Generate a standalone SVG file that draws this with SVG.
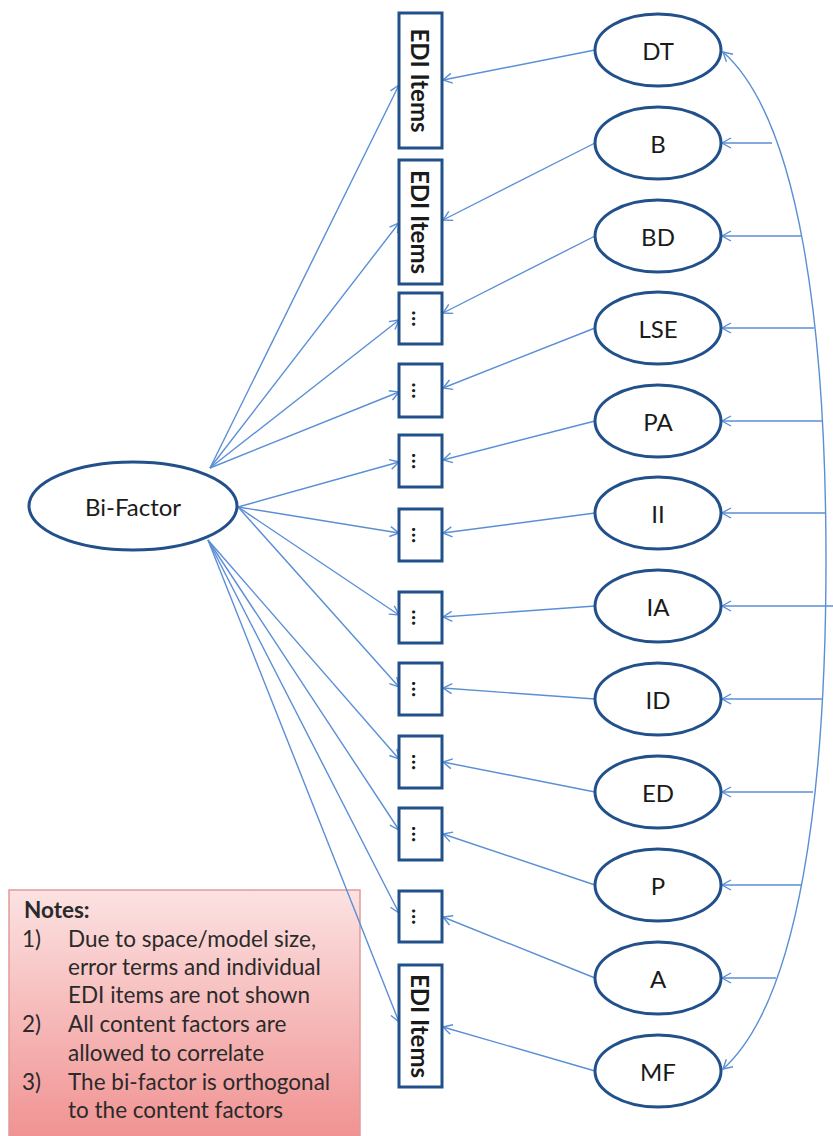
<svg xmlns="http://www.w3.org/2000/svg" width="833" height="1136" viewBox="0 0 833 1136">
<defs>
<linearGradient id="noteGrad" x1="0" y1="0" x2="0" y2="1">
<stop offset="0" stop-color="#fce2e2"/>
<stop offset="1" stop-color="#f08e8e"/>
</linearGradient>
<marker id="arr" viewBox="-10 -6 12 12" refX="0" refY="0" markerWidth="12" markerHeight="12" markerUnits="userSpaceOnUse" orient="auto-start-reverse">
<path d="M-9,-5 L0,0 L-9,5" fill="none" stroke="#5a8fd6" stroke-width="1.4"/>
</marker>
</defs>
<style>
.ell{fill:#fff;stroke:#22508a;stroke-width:3}
.box{fill:#fff;stroke:#22508a;stroke-width:3}
.lbl{font-family:Lato,"Liberation Sans",sans-serif;font-size:24px;fill:#1a1a1a;text-anchor:middle;dominant-baseline:central}
.bt{font-family:Lato,"Liberation Sans",sans-serif;font-size:24px;font-weight:bold;fill:#1a1a1a;text-anchor:middle;dominant-baseline:central}
.dt{font-family:Lato,"Liberation Sans",sans-serif;font-size:21px;font-weight:bold;fill:#1a1a1a;text-anchor:middle;dominant-baseline:central}
.c{fill:none;stroke:#5a8fd6;stroke-width:1.4;marker-end:url(#arr)}
.nt{font-family:Lato,"Liberation Sans",sans-serif;font-size:22.5px;fill:#2a2a2a}
</style>
<rect width="833" height="1136" fill="#fff"/>

<g id="notes">
<rect x="9" y="890" width="351" height="260" fill="url(#noteGrad)" stroke="#e29a9a" stroke-width="1.5"/>
<text class="nt" x="24" y="918" font-weight="bold">Notes:</text>
<text class="nt" x="22" y="947">1)</text>
<text class="nt" x="68" y="947">Due to space/model size,</text>
<text class="nt" x="68" y="975">error terms and individual</text>
<text class="nt" x="68" y="1003">EDI items are not shown</text>
<text class="nt" x="22" y="1032">2)</text>
<text class="nt" x="68" y="1032">All content factors are</text>
<text class="nt" x="68" y="1061">allowed to correlate</text>
<text class="nt" x="22" y="1090">3)</text>
<text class="nt" x="68" y="1090">The bi-factor is orthogonal</text>
<text class="nt" x="68" y="1118">to the content factors</text>
</g>

<g id="connectors">
<line class="c" x1="210" y1="468" x2="399" y2="85"/>
<line class="c" x1="210" y1="468" x2="399" y2="223"/>
<line class="c" x1="210" y1="468" x2="399" y2="320"/>
<line class="c" x1="210" y1="468" x2="399" y2="392"/>
<line class="c" x1="238" y1="507" x2="399" y2="462"/>
<line class="c" x1="238" y1="507" x2="399" y2="533"/>
<line class="c" x1="238" y1="507" x2="399" y2="615"/>
<line class="c" x1="238" y1="507" x2="399" y2="687"/>
<line class="c" x1="208" y1="540" x2="399" y2="759"/>
<line class="c" x1="208" y1="540" x2="399" y2="830"/>
<line class="c" x1="208" y1="540" x2="399" y2="913"/>
<line class="c" x1="208" y1="540" x2="399" y2="1022"/>
<line class="c" x1="595" y1="50" x2="443" y2="80"/>
<line class="c" x1="595" y1="143" x2="443" y2="220"/>
<line class="c" x1="595" y1="236" x2="443" y2="313"/>
<line class="c" x1="595" y1="328" x2="443" y2="388"/>
<line class="c" x1="595" y1="421" x2="443" y2="460"/>
<line class="c" x1="595" y1="513" x2="443" y2="533"/>
<line class="c" x1="595" y1="606" x2="443" y2="617"/>
<line class="c" x1="595" y1="699" x2="443" y2="688"/>
<line class="c" x1="595" y1="792" x2="443" y2="762"/>
<line class="c" x1="595" y1="885" x2="443" y2="834"/>
<line class="c" x1="595" y1="978" x2="443" y2="917"/>
<line class="c" x1="595" y1="1071" x2="443" y2="1027"/>
<path class="c" style="marker-start:url(#arr)" d="M723,52 C800,120 826,330 826,560 C826,790 800,1000 723,1069"/>
<line class="c" x1="772" y1="143" x2="722" y2="143"/>
<line class="c" x1="802" y1="236" x2="722" y2="236"/>
<line class="c" x1="814" y1="328" x2="722" y2="328"/>
<line class="c" x1="822" y1="421" x2="722" y2="421"/>
<line class="c" x1="825" y1="513" x2="722" y2="513"/>
<line class="c" x1="833" y1="606" x2="722" y2="606"/>
<line class="c" x1="822" y1="699" x2="722" y2="699"/>
<line class="c" x1="813" y1="792" x2="722" y2="792"/>
<line class="c" x1="802" y1="885" x2="722" y2="885"/>
<line class="c" x1="776" y1="978" x2="722" y2="978"/>
</g>

<g id="bifactor"><ellipse class="ell" cx="133" cy="506" rx="104" ry="44"/><text class="lbl" x="133" y="506">Bi-Factor</text></g>

<g id="box1"><rect class="box" x="399" y="13" width="43" height="135"/><text class="bt" transform="translate(420.5,80.5) rotate(90)">EDI Items</text></g>
<g id="box2"><rect class="box" x="399" y="160" width="43" height="124"/><text class="bt" transform="translate(420.5,222) rotate(90)">EDI Items</text></g>
<g id="box3"><rect class="box" x="399" y="293" width="43" height="51"/><text class="dt" transform="translate(420.5,318.5) rotate(90)">…</text></g>
<g id="box4"><rect class="box" x="399" y="364" width="43" height="53"/><text class="dt" transform="translate(420.5,390.5) rotate(90)">…</text></g>
<g id="box5"><rect class="box" x="399" y="435" width="43" height="52"/><text class="dt" transform="translate(420.5,461) rotate(90)">…</text></g>
<g id="box6"><rect class="box" x="399" y="509" width="43" height="52"/><text class="dt" transform="translate(420.5,535) rotate(90)">…</text></g>
<g id="box7"><rect class="box" x="399" y="592" width="43" height="51"/><text class="dt" transform="translate(420.5,617.5) rotate(90)">…</text></g>
<g id="box8"><rect class="box" x="399" y="663" width="43" height="52"/><text class="dt" transform="translate(420.5,689) rotate(90)">…</text></g>
<g id="box9"><rect class="box" x="399" y="736" width="43" height="52"/><text class="dt" transform="translate(420.5,762) rotate(90)">…</text></g>
<g id="box10"><rect class="box" x="399" y="808" width="43" height="52"/><text class="dt" transform="translate(420.5,834) rotate(90)">…</text></g>
<g id="box11"><rect class="box" x="399" y="891" width="43" height="51"/><text class="dt" transform="translate(420.5,916.5) rotate(90)">…</text></g>
<g id="box12"><rect class="box" x="399" y="965" width="43" height="122"/><text class="bt" transform="translate(420.5,1026) rotate(90)">EDI Items</text></g>

<g id="DT"><ellipse class="ell" cx="658" cy="50" rx="63" ry="36"/><text class="lbl" x="658" y="50">DT</text></g>
<g id="B"><ellipse class="ell" cx="658" cy="143" rx="63" ry="36"/><text class="lbl" x="658" y="143">B</text></g>
<g id="BD"><ellipse class="ell" cx="658" cy="236" rx="63" ry="36"/><text class="lbl" x="658" y="236">BD</text></g>
<g id="LSE"><ellipse class="ell" cx="658" cy="328" rx="63" ry="36"/><text class="lbl" x="658" y="328">LSE</text></g>
<g id="PA"><ellipse class="ell" cx="658" cy="421" rx="63" ry="36"/><text class="lbl" x="658" y="421">PA</text></g>
<g id="II"><ellipse class="ell" cx="658" cy="513" rx="63" ry="36"/><text class="lbl" x="658" y="513">II</text></g>
<g id="IA"><ellipse class="ell" cx="658" cy="606" rx="63" ry="36"/><text class="lbl" x="658" y="606">IA</text></g>
<g id="ID"><ellipse class="ell" cx="658" cy="699" rx="63" ry="36"/><text class="lbl" x="658" y="699">ID</text></g>
<g id="ED"><ellipse class="ell" cx="658" cy="792" rx="63" ry="36"/><text class="lbl" x="658" y="792">ED</text></g>
<g id="P"><ellipse class="ell" cx="658" cy="885" rx="63" ry="36"/><text class="lbl" x="658" y="885">P</text></g>
<g id="A"><ellipse class="ell" cx="658" cy="978" rx="63" ry="36"/><text class="lbl" x="658" y="978">A</text></g>
<g id="MF"><ellipse class="ell" cx="658" cy="1071" rx="63" ry="36"/><text class="lbl" x="658" y="1071">MF</text></g>
</svg>
